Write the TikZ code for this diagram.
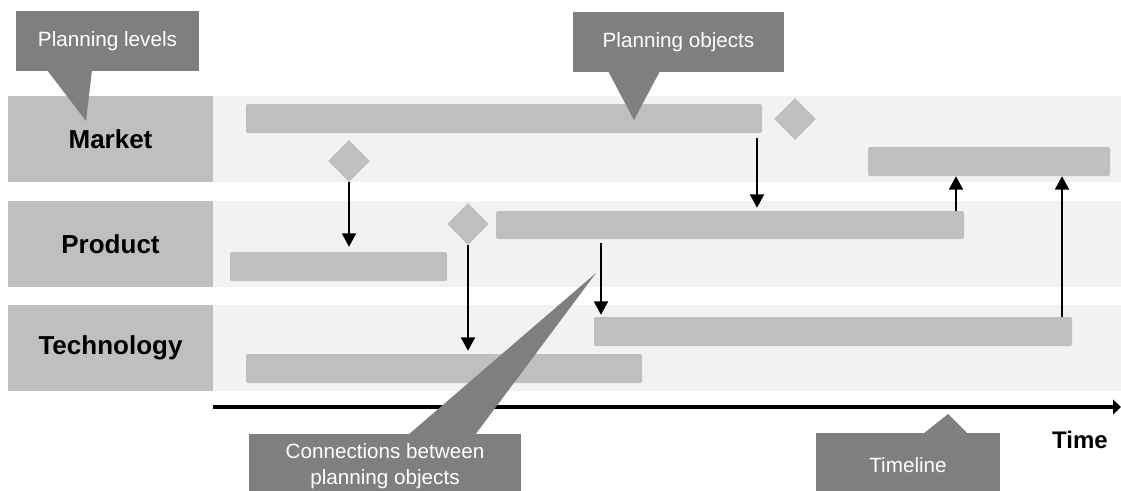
\documentclass[tikz,border=0pt]{standalone}
\usepackage{fontspec}
\setmainfont{Liberation Sans}
\usetikzlibrary{arrows.meta,shapes.geometric,fit}
\definecolor{bandgray}{HTML}{F2F2F2}
\definecolor{objgray}{HTML}{BFBFBF}
\definecolor{callgray}{HTML}{7F7F7F}
\begin{document}
\begin{tikzpicture}[x=0.75pt,y=-0.75pt,
  band/.style={fill=bandgray, inner sep=0pt, draw=none},
  level/.style={fill=objgray, inner sep=0pt},
  leveltext/.style={font=\fontsize{19.5}{22}\selectfont\bfseries, inner sep=0pt},
  planbar/.style={fill=objgray, rounded corners=1.5pt, inner sep=0pt},
  milestone/.style={diamond, fill=objgray, inner sep=0pt, minimum width=31.5pt, minimum height=31.5pt},
  link/.style={line width=1.3pt, -{Triangle[width=10.5pt,length=10pt]}},
  callout/.style={fill=callgray, inner sep=0pt},
  callouttext/.style={text=white, align=center, inner sep=0pt,
    font=\fontsize{15.5}{19.5}\selectfont},
  pointer/.style={fill=callgray},
  timeaxis/.style={line width=3.4pt, -{Triangle[width=11pt,length=6pt]}},
  timelabel/.style={font=\fontsize{18}{20}\selectfont\bfseries}]

\clip (0,0) rectangle (1121,490);

% swim lanes
\node[band, fit={(213,96) (1121,182)}] (mband) {};
\node[band, fit={(213,201) (1121,287)}] (pband) {};
\node[band, fit={(213,305) (1121,391)}] (tband) {};

% planning levels
\node[level, fit={(8,96) (213,182)}] (mlevel) {};
\node[level, fit={(8,201) (213,287)}] (plevel) {};
\node[level, fit={(8,305) (213,391)}] (tlevel) {};
\node[leveltext] (mtext) at (mlevel.center) {Market};
\node[leveltext] (ptext) at (plevel.center) {Product};
\node[leveltext] (ttext) at (tlevel.center) {Technology};

% planning objects
\node[planbar, fit={(246,104) (762,133)}] (m1) {};
\node[planbar, fit={(868,147) (1110,176)}] (m2) {};
\node[planbar, fit={(230,252) (447,281)}] (p1) {};
\node[planbar, fit={(496,211) (964,239)}] (p2) {};
\node[planbar, fit={(246,354) (642,383)}] (t1) {};
\node[planbar, fit={(594,317) (1072,346)}] (t2) {};

% milestones
\node[milestone] (dm1) at (795,119) {};
\node[milestone] (dm2) at (349,161) {};
\node[milestone] (dp) at (468,224) {};

% x positions of the links that leave a bar
\coordinate (xa) at (757,0);
\coordinate (xb) at (601,0);
\coordinate (xc) at (956,0);
\coordinate (xd) at (1062,0);

% connections between planning objects
\draw[link, shorten >=3.75pt] (dm2.south) -- (p1.north -| dm2.south);
\draw[link, shorten >=2.25pt] (dp.south) -- (t1.north -| dp.south);
\draw[link, shorten <=3.75pt, shorten >=2.25pt] (m1.south -| xa) -- (p2.north -| xa);
\draw[link, shorten <=3pt, shorten >=1.5pt] (p2.south -| xb) -- (t2.north -| xb);
\draw[link] (p2.north -| xc) -- (m2.south -| xc);
\draw[link] (t2.north -| xd) -- (m2.south -| xd);

% timeline
\coordinate (tstart) at (213,407);
\coordinate (tend) at (1121,407);
\draw[timeaxis] (tstart) -- (tend);
\node[timelabel] (time) at (1080,440) {Time};

% callouts
\node[callout, fit={(16,11) (199,71)}] (cl) {};
\node[callouttext] (cltext) at (cl.center) {Planning levels};
\fill[pointer] (47,70) -- (86,121) -- (92,70) -- cycle;

\node[callout, fit={(573,12) (784,72)}] (co) {};
\node[callouttext] (cotext) at (co.center) {Planning objects};
\fill[pointer] (608,71) -- (634,120) -- (660,71) -- cycle;

\node[callout, fit={(249,434) (521,498)}] (cc) {};
\node[callouttext] (cctext) at (cc.center) {Connections between\\planning objects};
\fill[pointer] (408,435) -- (596,273) -- (475,435) -- cycle;

\node[callout, fit={(816,433) (1000,497)}] (ct) {};
\node[callouttext] (cttext) at (ct.center) {Timeline};
\fill[pointer] (923,434) -- (948,414) -- (968,434) -- cycle;
\end{tikzpicture}
\end{document}
